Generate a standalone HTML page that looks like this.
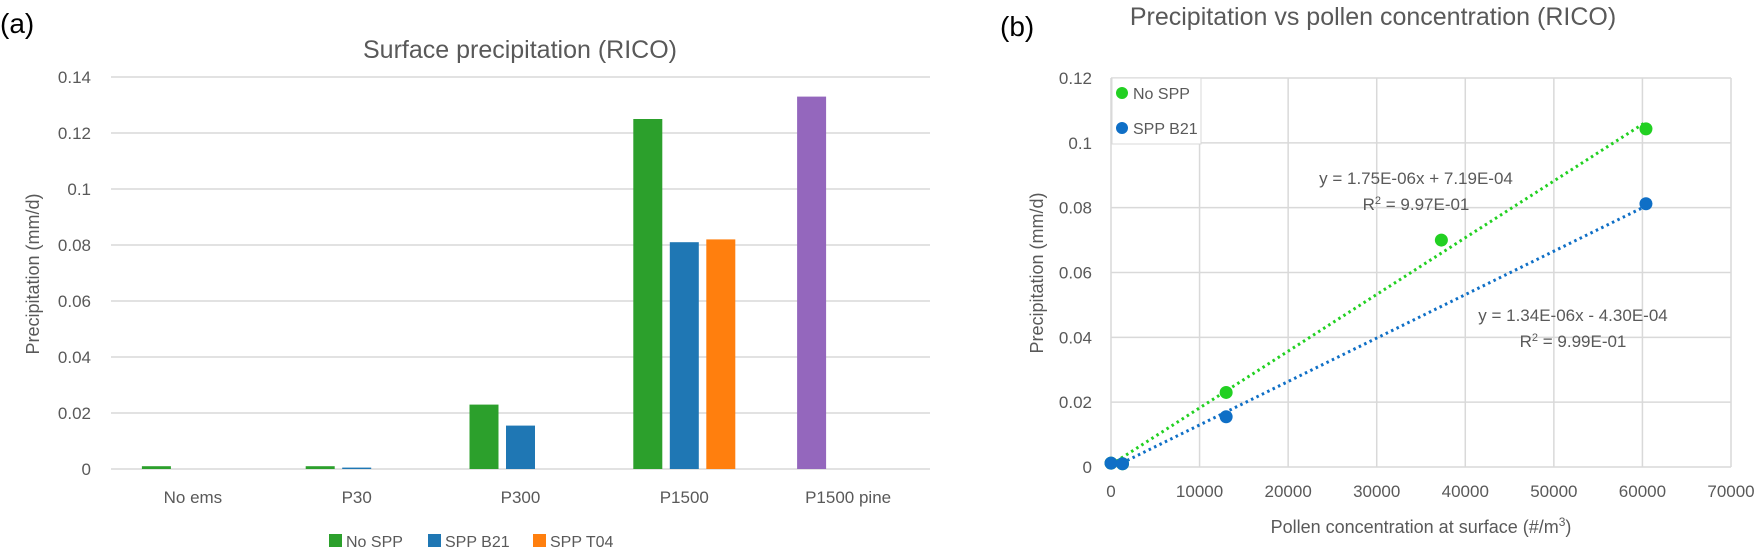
<!DOCTYPE html>
<html><head><meta charset="utf-8">
<style>
body{margin:0;background:#fff;}
svg{display:block;font-family:"Liberation Sans",sans-serif;}
.t{fill:#595959;}
.eq{font-family:"Liberation Sans Narrow","Liberation Sans",sans-serif;}
</style></head>
<body>
<svg id="root" width="1758" height="551" viewBox="0 0 1758 551" xmlns="http://www.w3.org/2000/svg">
<text x="0" y="33" font-size="28" fill="#000">(a)</text>
<text class="t" x="520" y="58" font-size="25" text-anchor="middle">Surface precipitation (RICO)</text>
<text class="t" x="0" y="0" font-size="18" text-anchor="middle" transform="translate(39,274) rotate(-90)">Precipitation (mm/d)</text>
<g id="barGrid"></g>
<g id="barYTicks"></g>
<g id="bars"></g>
<g id="barXTicks"></g>
<g>
 <g><rect x="329" y="534" width="13" height="13" fill="#2ca02c"/><text class="t" x="346" y="547" font-size="16">No SPP</text></g>
 <g><rect x="428" y="534" width="13" height="13" fill="#1f77b4"/><text class="t" x="445" y="547" font-size="16">SPP B21</text></g>
 <g><rect x="533" y="534" width="13" height="13" fill="#ff7f0e"/><text class="t" x="550" y="547" font-size="16">SPP T04</text></g>
</g>

<text x="1000" y="36" font-size="28" fill="#000">(b)</text>
<text class="t" x="1373" y="25" font-size="25" text-anchor="middle">Precipitation vs pollen concentration (RICO)</text>
<text class="t" x="0" y="0" font-size="18" text-anchor="middle" transform="translate(1043,273) rotate(-90)">Precipitation (mm/d)</text>
<text class="t" x="1421" y="533" font-size="18" text-anchor="middle">Pollen concentration at surface (#/m<tspan font-size="12" dy="-7">3</tspan><tspan dy="7">)</tspan></text>
<g id="scGrid"></g>
<g id="scTicks"></g>
<g id="scMarks"></g>
<g>
 <rect x="1112" y="78" width="89" height="66" fill="#fff" stroke="#d9d9d9"/>
 <g><circle cx="1122" cy="93" r="6" fill="#22d022"/><text class="t" x="1133" y="99" font-size="16">No SPP</text></g>
 <g><circle cx="1122" cy="128" r="6" fill="#0f6fc6"/><text class="t" x="1133" y="134" font-size="16">SPP B21</text></g>
</g>
<g>
 <text class="t eq" x="1416" y="184" font-size="17" text-anchor="middle">y = 1.75E-06x + 7.19E-04</text>
 <text class="t eq" x="1416" y="210" font-size="17" text-anchor="middle">R<tspan font-size="11" dy="-6">2</tspan><tspan dy="6"> = 9.97E-01</tspan></text>
</g>
<g>
 <text class="t eq" x="1573" y="321" font-size="17" text-anchor="middle">y = 1.34E-06x - 4.30E-04</text>
 <text class="t eq" x="1573" y="347" font-size="17" text-anchor="middle">R<tspan font-size="11" dy="-6">2</tspan><tspan dy="6"> = 9.99E-01</tspan></text>
</g>
</svg>
<script>
// ---- bar chart data ----
const barCategories = ["No ems","P30","P300","P1500","P1500 pine"];
const barSeriesNames = ["No SPP","SPP B21","SPP T04"];
const barNoSPP = [0.001,0.001,0.023,0.125,0.133];
const barSPPB21 = [0,0.0005,0.0155,0.081,0];
const barSPPT04 = [0,0,0,0.082,0];
const barYTicks = [0,0.02,0.04,0.06,0.08,0.1,0.12,0.14];
// ---- scatter data ----
const noSppX = [0,1300,13000,37300,60400];
const noSppY = [0.0012,0.001,0.023,0.070,0.1043];
const b21X = [0,1300,13000,60400];
const b21Y = [0.0012,0.001,0.0155,0.0812];
const trendNoSpp = [1.75e-6, 7.19e-4];
const trendB21 = [1.34e-6, -4.30e-4];
const scXTicks = [0,10000,20000,30000,40000,50000,60000,70000];
const scYTicks = [0,0.02,0.04,0.06,0.08,0.1,0.12];

const NS="http://www.w3.org/2000/svg";
function mk(tag,attrs,parent){const e=document.createElementNS(NS,tag);for(const k in attrs)e.setAttribute(k,attrs[k]);parent.appendChild(e);return e;}

// bar axes
const bx0=111,bx1=930,by0=469,byTop=77,bMax=0.14;
const band=(bx1-bx0)/barCategories.length;
function by(v){return by0-(v/bMax)*(by0-byTop);}
const bg=document.getElementById('barGrid'),byt=document.getElementById('barYTicks');
barYTicks.forEach(v=>{
 const l=mk('line',{x1:bx0,x2:bx1,y1:by(v),y2:by(v),stroke:'#d9d9d9','stroke-width':1.5},bg);
 
 
 const t=mk('text',{x:91,y:by(v)+6,'font-size':17,'text-anchor':'end',class:'t'},byt);
 t.textContent=String(v);
 
 
});
const bxt=document.getElementById('barXTicks');
barCategories.forEach((c,i)=>{
 const t=mk('text',{x:bx0+band*(i+0.5),y:503,'font-size':17,'text-anchor':'middle',class:'t'},bxt);
 t.textContent=c;
 
 
});
const barsG=document.getElementById('bars');
const series=[barNoSPP,barSPPB21,barSPPT04];
const colors=['#2ca02c','#1f77b4','#ff7f0e'];
const bw=29,slot=36.5;
series.forEach((vals,s)=>{
 vals.forEach((v,i)=>{
  if(v<=0)return;
  const cx=bx0+band*(i+0.5)+(s-1)*slot;
  let col=colors[s];
  if(s===0&&i===4)col='#9467bd';
  const r=mk('rect',{x:cx-bw/2,y:by(v),width:bw,height:by0-by(v),fill:col},barsG);
  
  
 });
});

// scatter axes
const sx0=1111,sx1=1731,sy0=467,syTop=78,sxMax=70000,syMax=0.12;
function sx(v){return sx0+(v/sxMax)*(sx1-sx0);}
function sy(v){return sy0-(v/syMax)*(sy0-syTop);}
const sg=document.getElementById('scGrid'),st=document.getElementById('scTicks');
scYTicks.forEach(v=>{
 const l=mk('line',{x1:sx0,x2:sx1,y1:sy(v),y2:sy(v),stroke:'#d9d9d9','stroke-width':1.5},sg);
 
 
 const t=mk('text',{x:1092,y:sy(v)+6,'font-size':17,'text-anchor':'end',class:'t'},st);
 t.textContent=String(v);
 
 
});
scXTicks.forEach(v=>{
 const l=mk('line',{x1:sx(v),x2:sx(v),y1:sy0,y2:syTop,stroke:'#d9d9d9','stroke-width':1.5},sg);
 
 
 const t=mk('text',{x:sx(v),y:497,'font-size':17,'text-anchor':'middle',class:'t'},st);
 t.textContent=String(v);
 
 
});
const sm=document.getElementById('scMarks');
function trend(coef,xs,col,name){
 const xa=Math.min(...xs),xb=Math.max(...xs);
 const l=mk('line',{x1:sx(xa),y1:sy(coef[0]*xa+coef[1]),x2:sx(xb),y2:sy(coef[0]*xb+coef[1]),stroke:col,'stroke-width':3,'stroke-dasharray':'2.5 3.5'},sm);
 
 
}
function pts(xs,ys,col,name){
 xs.forEach((x,i)=>{
  const c=mk('circle',{cx:sx(x),cy:sy(ys[i]),r:6.5,fill:col},sm);
  
  
 });
}
trend(trendNoSpp,noSppX,'#22d022','trendline-no-spp');
trend(trendB21,b21X,'#0f6fc6','trendline-spp-b21');
pts(noSppX,noSppY,'#22d022','point-no-spp');
pts(b21X,b21Y,'#0f6fc6','point-spp-b21');
</script>
</body></html>
